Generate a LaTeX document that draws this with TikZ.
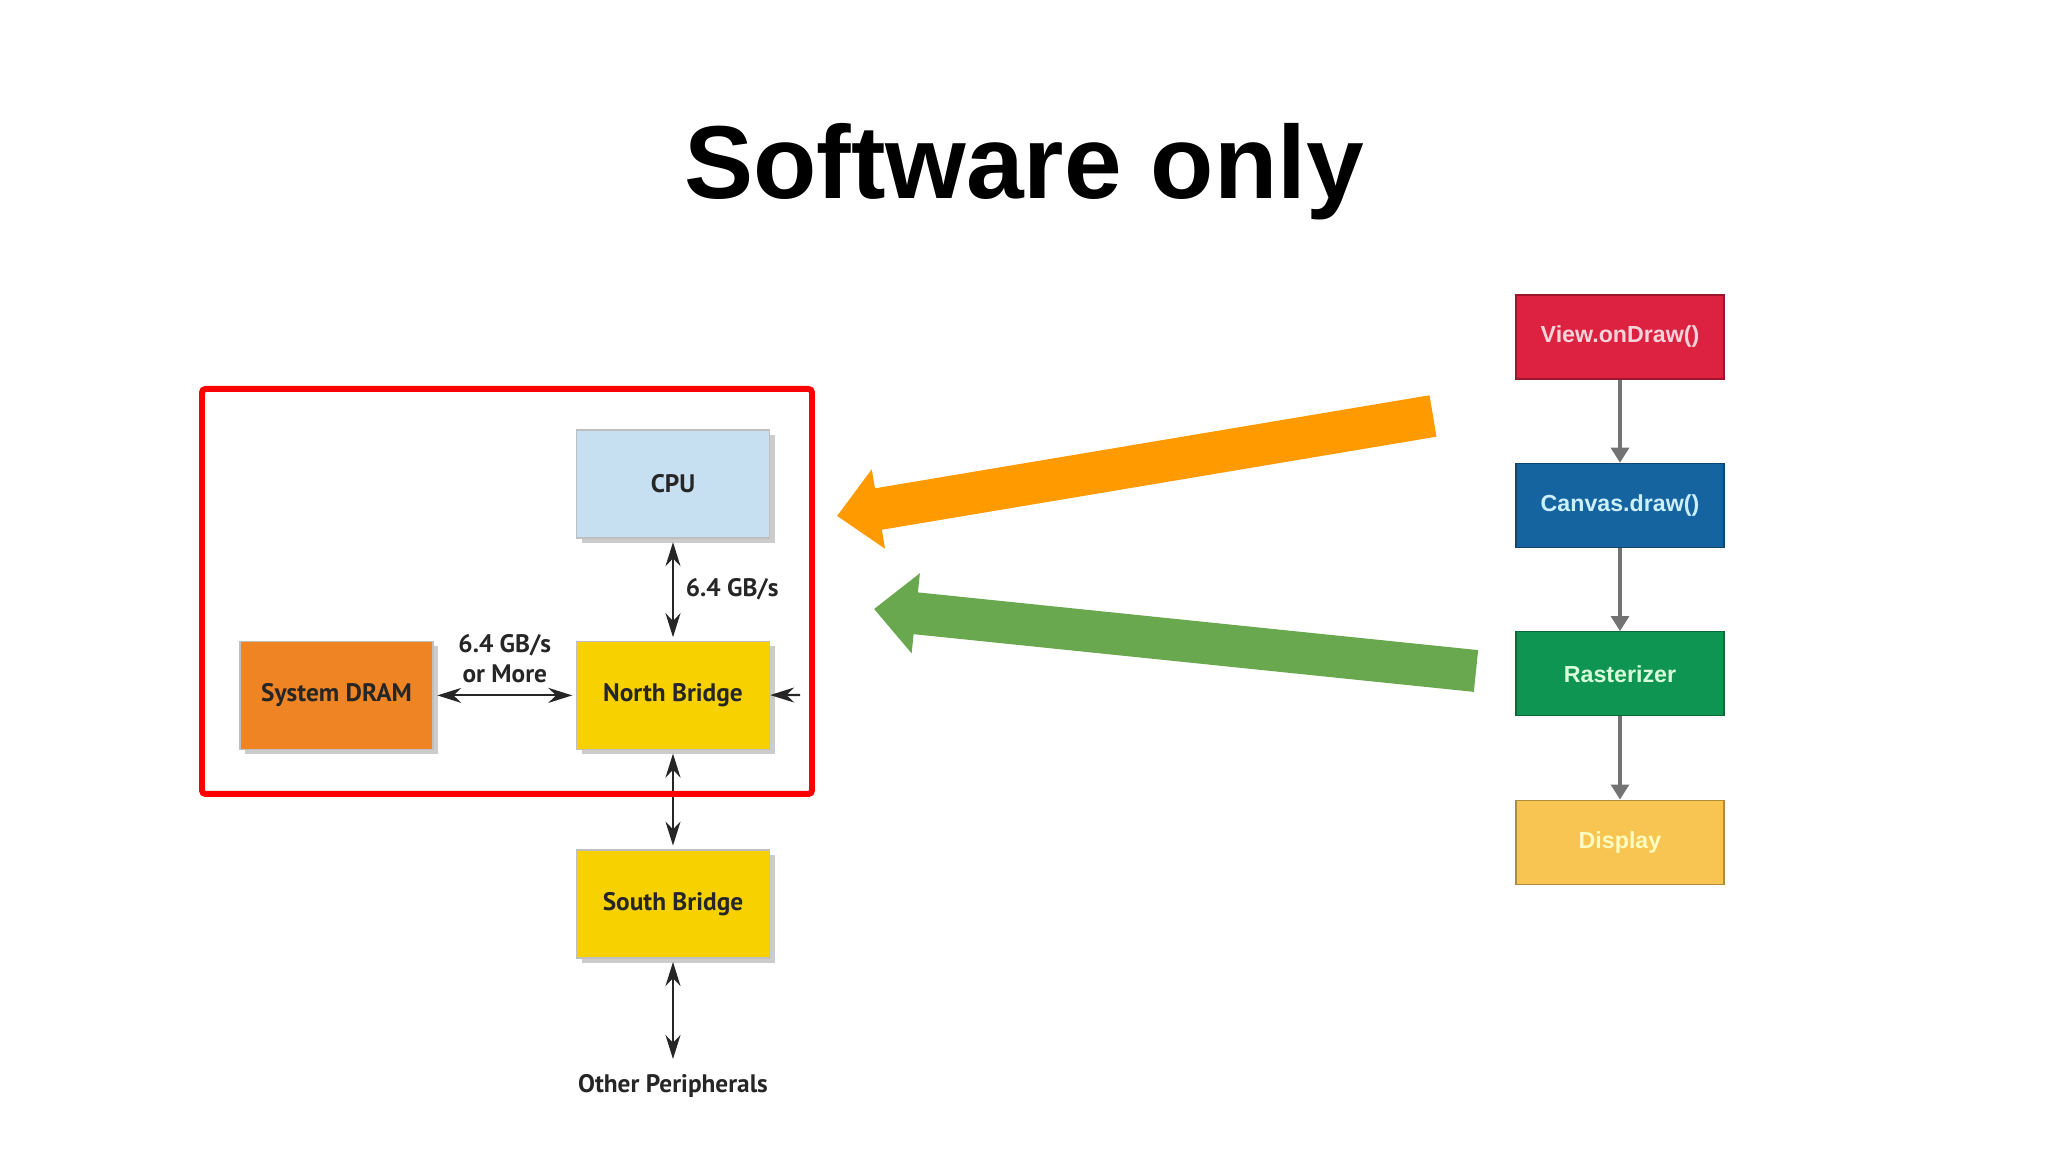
\documentclass[tikz,border=0pt]{standalone}
\usepackage{fontspec}
\setmainfont{Liberation Sans}
\newfontfamily\boxfont{PT Sans}
\usetikzlibrary{positioning, arrows.meta, shadows}

\definecolor{cpublue}{HTML}{C6E0F2}
\definecolor{bridgeyellow}{HTML}{F7D200}
\definecolor{dramorange}{HTML}{EE8424}
\definecolor{viewred}{HTML}{DD2140}
\definecolor{canvasblue}{HTML}{16649F}
\definecolor{rastergreen}{HTML}{0E9552}
\definecolor{displayyellow}{HTML}{F8C553}
\definecolor{bigorange}{HTML}{FF9A00}
\definecolor{biggreen}{HTML}{6AA84F}

\begin{document}
\begin{tikzpicture}[
    hwbox/.style = {draw=black!25, minimum width=1.93cm, minimum height=1.08cm, text=black!85,
        font=\boxfont\bfseries\fontsize{7.2}{8.6}\selectfont,
        drop shadow={shadow xshift=0.05cm, shadow yshift=-0.05cm, opacity=0.4}},
    buslabel/.style = {font=\boxfont\bfseries\fontsize{7.2}{8.6}\selectfont, text=black!85},
    flowbox/.style = {draw=#1!70!black, fill=#1, minimum width=2.08cm, minimum height=0.84cm,
        font=\bfseries\fontsize{6.6}{8}\selectfont},
    bus/.style = {{Stealth[length=2.4mm, width=1.5mm]}-{Stealth[length=2.4mm, width=1.5mm]},
        line width=0.6pt, black!85, shorten <=1pt, shorten >=1pt},
    flowarrow/.style = {-{Triangle[length=1.5mm, width=1.8mm]}, line width=0.9pt, black!55},
    bigarrow/.style = {line width=0.42cm, -{Triangle[length=0.42cm, width=0.78cm]}},
]
    \useasboundingbox (0, 0) rectangle (20.48, 11.52);

    \node[font=\bfseries\fontsize{29.5}{35}\selectfont, anchor=base] (title) at (10.24, 9.53) {Software only};

    % hardware side
    \node[hwbox, fill=cpublue] (cpu) at (6.73, 6.68) {CPU};
    \node[hwbox, fill=bridgeyellow, below=1.02cm of cpu] (north) {North Bridge};
    \node[hwbox, fill=dramorange, left=1.42cm of north] (dram) {System DRAM};
    \node[hwbox, fill=bridgeyellow, below=0.99cm of north] (south) {South Bridge};
    \node[buslabel, below=1.04cm of south] (periph) {Other Peripherals};
    \coordinate (nbstub) at (8.00, 4.57);

    \draw[bus] (cpu) -- (north) node[buslabel, midway, right] {6.4 GB/s};
    \draw[bus] (dram) -- (north) node[buslabel, midway, above, align=center] {6.4 GB/s\\or More};
    \draw[bus] (north) -- (south);
    \draw[bus] (south) -- (periph);
    \draw[-{Stealth[length=2.4mm, width=1.5mm]}, line width=0.6pt, black!85] (nbstub) -- (north);

    \draw[red, line width=1.7pt, rounded corners=1pt] (2.02, 3.58) rectangle (8.12, 7.63);

    % pipeline side
    \node[flowbox=viewred, text=viewred!20] (ondraw) at (16.20, 8.15) {View.onDraw()};
    \node[flowbox=canvasblue, text=cyan!20, below=0.83cm of ondraw] (canvas) {Canvas.draw()};
    \node[flowbox=rastergreen, text=green!15, below=0.83cm of canvas] (raster) {Rasterizer};
    \node[flowbox=displayyellow, text=yellow!25, below=0.83cm of raster] (display) {Display};

    \foreach \a/\b in {ondraw/canvas, canvas/raster, raster/display} {
        \draw[flowarrow] (\a) -- (\b);
    }

    \coordinate (orangetail) at (14.33, 7.36);
    \coordinate (orangetip) at (8.37, 6.36);
    \coordinate (greentail) at (14.76, 4.81);
    \coordinate (greentip) at (8.74, 5.43);
    \draw[bigarrow, bigorange] (orangetail) -- (orangetip);
    \draw[bigarrow, biggreen] (greentail) -- (greentip);
\end{tikzpicture}
\end{document}
